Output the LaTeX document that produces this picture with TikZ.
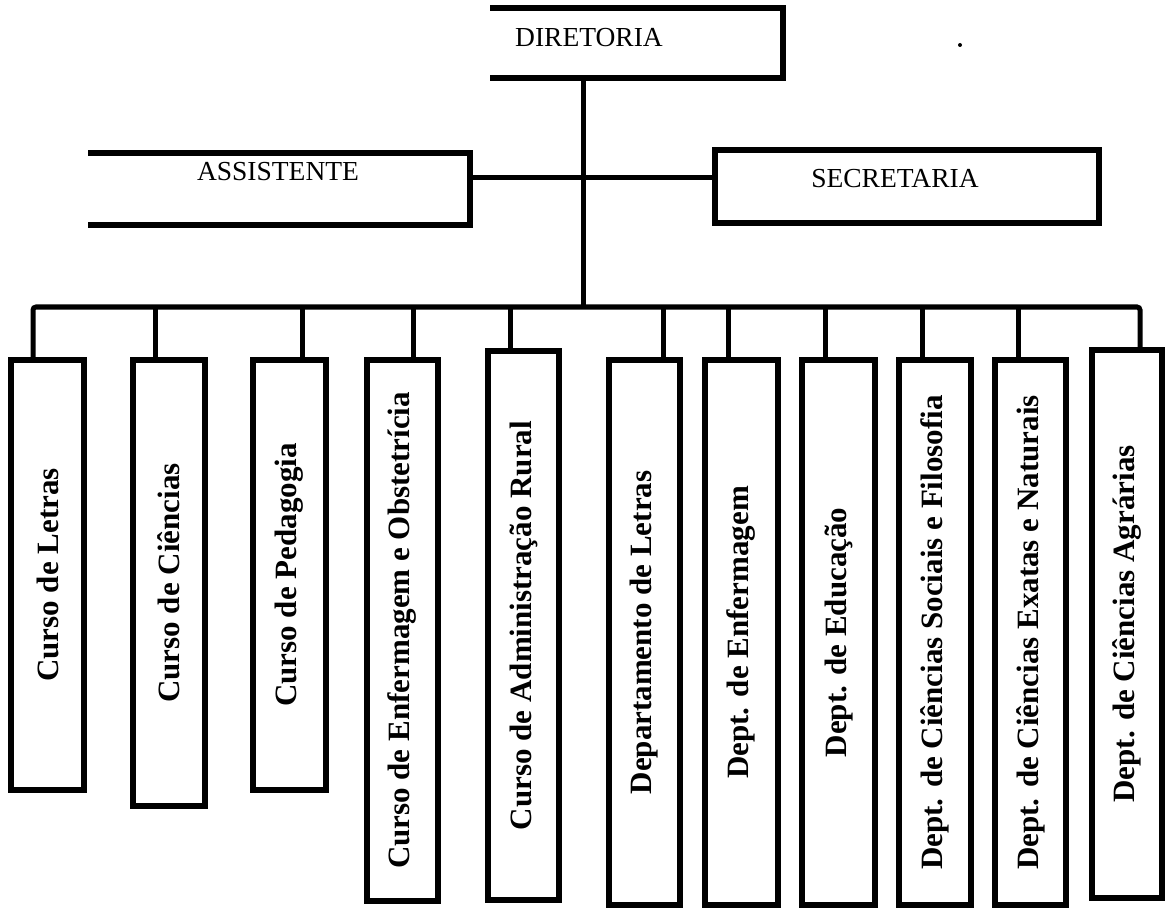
\documentclass[tikz,border=0pt]{standalone}
\usepackage{fontspec}
\setmainfont{Liberation Serif}
\begin{document}
\begin{tikzpicture}[x=1pt,y=-1pt,
  ln/.style={line width=5.5pt,line join=miter},
  conn/.style={line width=5pt},
  cbox/.style={draw,line width=5.5pt,inner sep=0pt,rectangle},
  toptext/.style={font=\fontsize{27.5}{30}\selectfont,inner sep=0pt},
  vtext/.style={font=\fontsize{31}{34}\selectfont\bfseries,rotate=90,inner sep=0pt}]
\useasboundingbox (0,0) rectangle (1168,912);
% top-level open-left boxes
\draw[ln] (490,8) -- (783,8) -- (783,78) -- (490,78);
\coordinate (dirbot) at (583,78);
\node[toptext] (dir) at (589,38) {DIRETORIA};
\draw[ln] (88,153) -- (470,153) -- (470,225) -- (88,225);
\coordinate (assr) at (470,178);
\node[toptext] (ass) at (278,172) {ASSISTENTE};
\node[cbox,minimum width=384pt,minimum height=73pt] (sec) at (907,186.5) {};
\node[toptext] (sect) at (895,179) {SECRETARIA};
\fill (960,45) circle (2pt);
% trunk and bus
\coordinate (bus) at (583,307);
\coordinate (jt) at (583,178);
\draw[conn] (dirbot) -- (bus);
\draw[conn] (assr) -- (jt) -- (sec.west |- jt);
% children
\foreach \n/\l/\r/\t/\b/\s/\txt in {
 c1/11/84/360/790/33/{Curso de Letras},
 c2/133/205/360/806/155/{Curso de Ciências},
 c3/253/326/360/790/302/{Curso de Pedagogia},
 c4/367/438/360/901/413/{Curso de Enfermagem e Obstetrícia},
 c5/488/559/351/900/510/{Curso de Administração Rural},
 c6/609/680/360/905/663/{Departamento de Letras},
 c7/705/778/360/905/728/{Dept. de Enfermagem},
 c8/802/875/360/905/825/{Dept. de Educação},
 c9/899/971/360/905/922/{Dept. de Ciências Sociais e Filosofia},
 c10/995/1066/360/905/1018/{Dept. de Ciências Exatas e Naturais},
 c11/1092/1162/350/898/1140/{Dept. de Ciências Agrárias}}{
  \pgfmathsetmacro{\w}{\r-\l}
  \pgfmathsetmacro{\h}{\b-\t}
  \node[cbox,minimum width=\w pt,minimum height=\h pt] (\n) at ({(\l+\r)/2},{(\t+\b)/2}) {};
  \node[vtext] (\n t) at (\n.center) {\txt};
  \coordinate (\n s) at (\s,\t);
}
\draw[conn,rounded corners=3pt] (c1s) -- (33,307) -- (1140,307) -- (c11s);
\foreach \n in {c2,c3,c4,c5,c6,c7,c8,c9,c10}{
  \draw[conn] (\n s) -- (\n s |- bus);
}
\end{tikzpicture}
\end{document}
